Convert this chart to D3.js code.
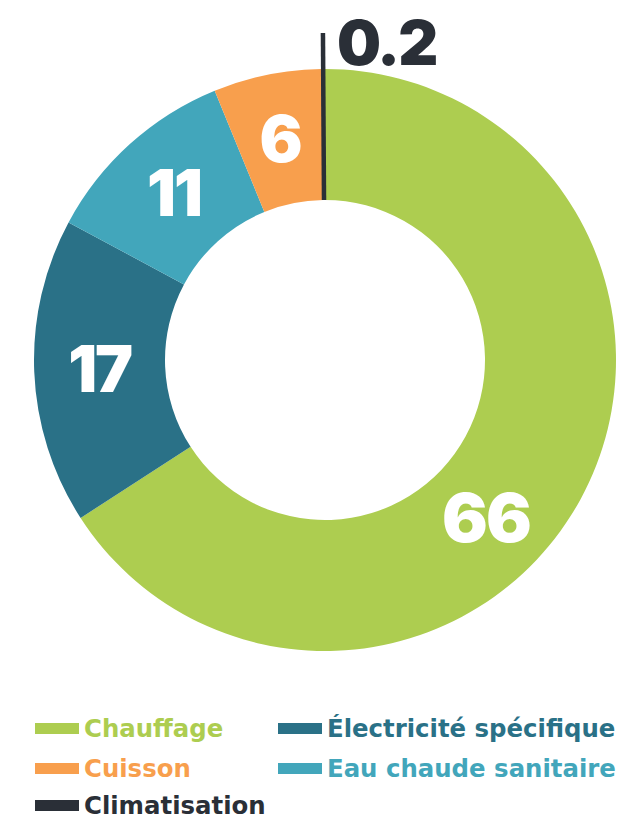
<!DOCTYPE html>
<html>
<head>
<meta charset="utf-8">
<script src="https://cdn.jsdelivr.net/npm/d3@7"></script>
<style>
  body { margin: 0; background: #fff; }
  svg { display: block; }
</style>
</head>
<body>
<div id="chart"></div>
<script>
// data
var categories = ["Chauffage", "Électricité spécifique", "Eau chaude sanitaire", "Cuisson", "Climatisation"];
var values = [66, 17, 11, 6, 0.2];
var valueLabels = ["66", "17", "11", "6", "0.2"];
var colors = ["#adcd50", "#2a7187", "#42a6bb", "#f89f4d", "#2a2f37"];
// legend order as in the picture (two columns)
var legendOrder = ["Chauffage", "Électricité spécifique", "Cuisson", "Eau chaude sanitaire", "Climatisation"];

var W = 637, H = 820;
var cx = 325, cy = 360, outerR = 291, innerR = 160;

var svg = d3.select("#chart").append("svg")
    .attr("width", W).attr("height", H);

var color = d3.scaleOrdinal().domain(categories).range(colors);

var pie = d3.pie().sort(null).value(function (d, i) { return values[i]; });
var arcs = pie(categories);

var arc = d3.arc().innerRadius(innerR).outerRadius(outerR);

var g = svg.append("g").attr("transform", "translate(" + cx + "," + cy + ")");

g.selectAll("path.slice")
  .data(arcs)
  .enter().append("path")
    .attr("class", "slice")
    .attr("d", arc)
    .attr("fill", function (d) { return color(d.data); });

// tiny slice: drawn as a line that sticks out of the ring
var tiny = arcs[4];
var tinyAngle = (tiny.startAngle + tiny.endAngle) / 2;
var lineEnd = 327;
g.append("line")
  .attr("x1", innerR * Math.sin(tinyAngle)).attr("y1", -innerR * Math.cos(tinyAngle))
  .attr("x2", lineEnd * Math.sin(tinyAngle)).attr("y2", -lineEnd * Math.cos(tinyAngle))
  .attr("stroke", colors[4])
  .attr("stroke-width", 4.5);

g.append("text")
  .attr("x", lineEnd * Math.sin(tinyAngle) + 14)
  .attr("y", -lineEnd * Math.cos(tinyAngle) + 32)
  .attr("fill", colors[4])
  .attr("font-family", "Inter, sans-serif")
  .attr("font-weight", 900)
  .attr("font-size", 62)
  .attr("letter-spacing", -2)
  .text(valueLabels[4]);

// value labels inside the ring
var labelR = (innerR + outerR) / 2;
g.selectAll("text.val")
  .data(arcs.slice(0, 4))
  .enter().append("text")
    .attr("class", "val")
    .attr("transform", function (d, i) {
      // the big slice has its label pushed towards the lower right
      var t = i === 0 ? 0.567 : 0.5;
      var a = d.startAngle + (d.endAngle - d.startAngle) * t;
      return "translate(" + (labelR * Math.sin(a)) + "," + (-labelR * Math.cos(a)) + ")";
    })
    .attr("text-anchor", "middle")
    .attr("dy", "0.36em")
    .attr("fill", "#fff")
    .attr("font-family", "Inter, sans-serif")
    .attr("font-weight", 900)
    .attr("font-size", function (d, i) { return i === 0 ? 68 : 64; })
    .attr("letter-spacing", -2)
    .text(function (d, i) { return valueLabels[i]; });

// legend
var legend = svg.append("g");
var colX = [35, 278], rowY = [728, 768, 805];
var item = legend.selectAll("g.item")
  .data(legendOrder)
  .enter().append("g")
    .attr("class", "item")
    .attr("transform", function (d, i) {
      return "translate(" + colX[i % 2] + "," + rowY[Math.floor(i / 2)] + ")";
    });

item.append("rect")
  .attr("x", 0).attr("y", -5)
  .attr("width", 44).attr("height", 11)
  .attr("fill", function (d) { return color(d); });

item.append("text")
  .attr("x", 49)
  .attr("dy", "0.36em")
  .attr("fill", function (d) { return color(d); })
  .attr("font-family", "'DejaVu Sans', sans-serif")
  .attr("font-weight", 700)
  .attr("font-size", 24.4)
  .text(function (d) { return d; });
</script>
</body>
</html>
